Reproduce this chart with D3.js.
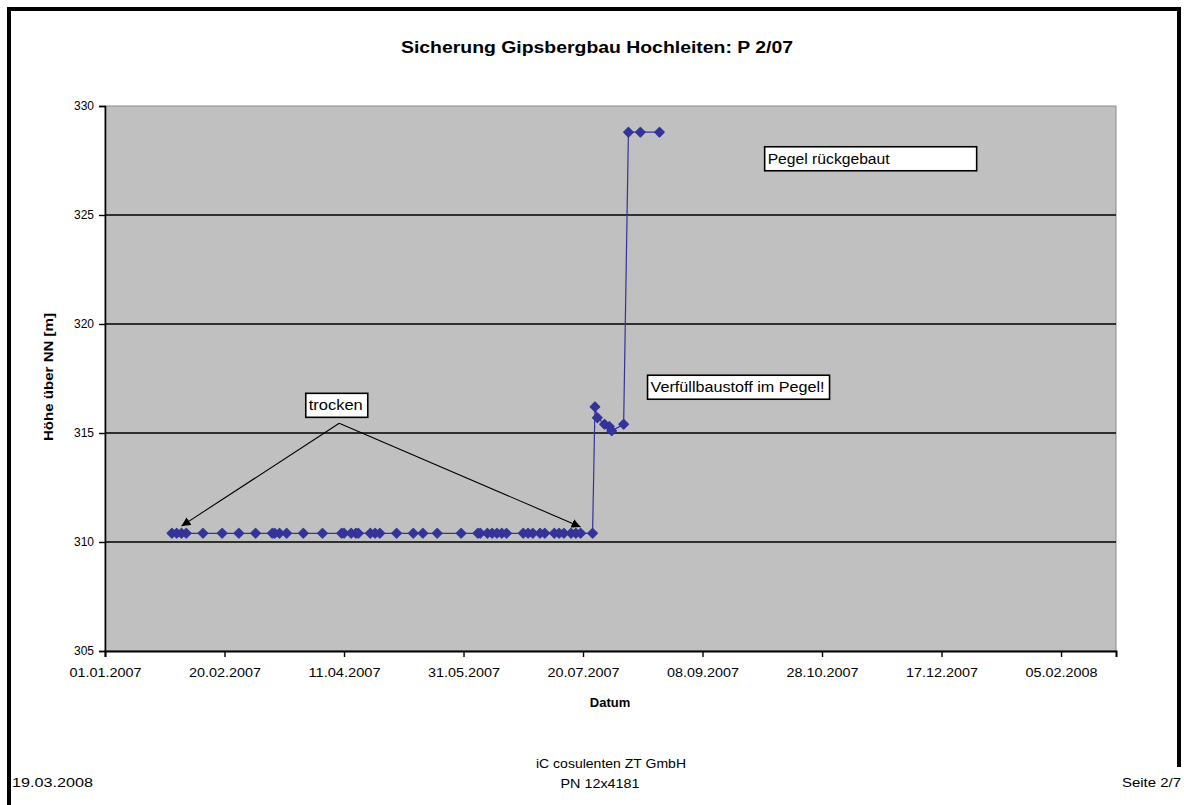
<!DOCTYPE html>
<html>
<head>
<meta charset="utf-8">
<script src="https://cdn.jsdelivr.net/npm/d3@7"></script>
<style>
html,body{margin:0;padding:0;background:#fff;}
svg{display:block;font-family:"Liberation Sans",Arial,sans-serif;}
</style>
</head>
<body>
<svg id="chart" width="1184" height="805"></svg>
<script>
// ---- data ----
const title = "Sicherung Gipsbergbau Hochleiten: P 2/07";
const xTitle = "Datum";
const yTitle = "Höhe über NN [m]";
const dates = [
  "2007-01-29","2007-01-31","2007-02-02","2007-02-04","2007-02-11","2007-02-19","2007-02-26",
  "2007-03-05","2007-03-12","2007-03-13","2007-03-15","2007-03-18","2007-03-25","2007-04-02",
  "2007-04-10","2007-04-11","2007-04-14","2007-04-16","2007-04-17","2007-04-22","2007-04-24",
  "2007-04-26","2007-05-03","2007-05-10","2007-05-14","2007-05-20","2007-05-30","2007-06-06",
  "2007-06-07","2007-06-10","2007-06-12","2007-06-14","2007-06-16","2007-06-18","2007-06-25",
  "2007-06-27","2007-06-29","2007-07-02","2007-07-04","2007-07-08","2007-07-10","2007-07-12",
  "2007-07-15","2007-07-17","2007-07-19","2007-07-24",
  "2007-07-25","2007-07-26","2007-07-29","2007-07-31","2007-08-01","2007-08-06",
  "2007-08-08","2007-08-13","2007-08-21"
];
const levels = [
  310.4,310.4,310.4,310.4,310.4,310.4,310.4,
  310.4,310.4,310.4,310.4,310.4,310.4,310.4,
  310.4,310.4,310.4,310.4,310.4,310.4,310.4,
  310.4,310.4,310.4,310.4,310.4,310.4,310.4,
  310.4,310.4,310.4,310.4,310.4,310.4,310.4,
  310.4,310.4,310.4,310.4,310.4,310.4,310.4,
  310.4,310.4,310.4,310.4,
  316.2,315.7,315.4,315.3,315.1,315.4,
  328.8,328.8,328.8
];
const xTickLabels = ["01.01.2007","20.02.2007","11.04.2007","31.05.2007","20.07.2007","08.09.2007","28.10.2007","17.12.2007","05.02.2008"];
const yTicks = [305,310,315,320,325,330];
const xDomain = ["2007-01-01","2008-02-28"];
const yDomain = [305,330];
// annotations in data coordinates
const arrowApex = {date:"2007-04-09", value:315.45};
const arrowTips = [{date:"2007-02-02", value:310.73},{date:"2007-07-19", value:310.69}];
const notes = [
  {text:"trocken", date:"2007-03-26", value:316.82},
  {text:"Verfüllbaustoff im Pegel!", date:"2007-08-16", value:317.65},
  {text:"Pegel rückgebaut", date:"2007-10-04", value:328.13}
];
const noteBoxW = [62, 182, 212];
const noteTextW = [54, 174, 122];
const footerLeft = "19.03.2008";
const footerCenter = ["iC cosulenten ZT GmbH","PN 12x4181"];
const footerRight = "Seite 2/7";

// ---- drawing ----
const parse = d3.timeParse("%Y-%m-%d");
const parseLbl = d3.timeParse("%d.%m.%Y");
const svg = d3.select("#chart");
const L = 105, R = 1116, T = 106, B = 651;
const x = d3.scaleTime().domain(xDomain.map(parse)).range([L, R]);
const y = d3.scaleLinear().domain(yDomain).range([B, T]);

// page frame
svg.append("rect").attr("x",7).attr("y",7).attr("width",1174).attr("height",4).attr("fill","#000");
svg.append("rect").attr("x",7).attr("y",7).attr("width",4).attr("height",798).attr("fill","#000");
svg.append("rect").attr("x",1177).attr("y",7).attr("width",4).attr("height",760).attr("fill","#000");

// title
svg.append("text").attr("x",597).attr("y",53).attr("text-anchor","middle")
  .attr("font-size",16).attr("font-weight","bold").attr("textLength",392).attr("lengthAdjust","spacingAndGlyphs")
  .text(title);

// plot area
svg.append("rect").attr("x",L).attr("y",T).attr("width",R-L).attr("height",B-T)
  .attr("fill","#c0c0c0").attr("stroke","#8a8a8a").attr("stroke-width",1);

// gridlines
svg.append("g").selectAll("line").data(yTicks.filter(v=>v>305 && v<330)).join("line")
  .attr("x1",L).attr("x2",R).attr("y1",d=>y(d)).attr("y2",d=>y(d))
  .attr("stroke","#000").attr("stroke-width",1.6);

// y axis
const yAxis = svg.append("g").attr("transform",`translate(${L},0)`)
  .call(d3.axisLeft(y).tickValues(yTicks).tickSize(6).tickPadding(5).tickFormat(d3.format("d")));
yAxis.select(".domain").attr("stroke","#000").attr("stroke-width",1.6);
yAxis.selectAll(".tick line").attr("stroke","#000").attr("stroke-width",1.4);
yAxis.selectAll(".tick text").attr("font-size",12).attr("font-family","Liberation Sans, Arial, sans-serif").attr("fill","#000");

// x axis
const xTickDates = xTickLabels.map(parseLbl);
const xAxis = svg.append("g").attr("transform",`translate(0,${B})`)
  .call(d3.axisBottom(x).tickValues(xTickDates).tickSize(6).tickPadding(11).tickFormat(d3.timeFormat("%d.%m.%Y")));
xAxis.select(".domain").attr("stroke","#000").attr("stroke-width",2);
xAxis.selectAll(".tick line").attr("stroke","#000").attr("stroke-width",1.4);
xAxis.selectAll(".tick text").attr("font-size",13).attr("font-family","Liberation Sans, Arial, sans-serif").attr("fill","#000")
  .attr("textLength",72).attr("lengthAdjust","spacingAndGlyphs");

// axis titles
svg.append("text").attr("x",610).attr("y",707).attr("text-anchor","middle")
  .attr("font-size",13).attr("font-weight","bold").text(xTitle);
svg.append("text").attr("transform","translate(53,377) rotate(-90)").attr("text-anchor","middle")
  .attr("font-size",13).attr("font-weight","bold").attr("textLength",128).attr("lengthAdjust","spacingAndGlyphs").text(yTitle);

// series
const pts = dates.map((d,i)=>({date:parse(d), value:levels[i]}));
const line = d3.line().x(d=>x(d.date)).y(d=>y(d.value));
svg.append("path").datum(pts).attr("d",line).attr("fill","none")
  .attr("stroke","#333399").attr("stroke-width",1.2);
svg.append("g").selectAll("path").data(pts).join("path")
  .attr("d", d3.symbol().type(d3.symbolSquare).size(46))
  .attr("transform", d=>`translate(${x(d.date)},${y(d.value)}) rotate(45)`)
  .attr("fill","#333399").attr("stroke","#333399").attr("stroke-width",1.2).attr("stroke-linejoin","round");

// arrows
const defs = svg.append("defs");
defs.append("marker").attr("id","ah").attr("viewBox","0 0 10 10").attr("refX",10).attr("refY",5)
  .attr("markerWidth",9).attr("markerHeight",9).attr("markerUnits","userSpaceOnUse").attr("orient","auto")
  .append("path").attr("d","M0,0 L10,5 L0,10 Z").attr("fill","#000");
svg.append("g").selectAll("line").data(arrowTips).join("line")
  .attr("x1",x(parse(arrowApex.date))).attr("y1",y(arrowApex.value))
  .attr("x2",d=>x(parse(d.date))).attr("y2",d=>y(d.value))
  .attr("stroke","#000").attr("stroke-width",1.1).attr("marker-end","url(#ah)");

// note boxes
notes.forEach((n,i)=>{
  const g = svg.append("g").attr("transform",`translate(${x(parse(n.date))},${y(n.value)})`);
  g.append("rect").attr("x",0).attr("y",0).attr("width",noteBoxW[i]).attr("height",24)
    .attr("fill","#fff").attr("stroke","#000").attr("stroke-width",1.6);
  g.append("text").attr("x",3).attr("y",17).attr("font-size",14)
    .attr("textLength",noteTextW[i]).attr("lengthAdjust","spacingAndGlyphs").text(n.text);
});

// footer
svg.append("text").attr("x",611).attr("y",768).attr("text-anchor","middle").attr("font-size",13)
  .attr("textLength",150).attr("lengthAdjust","spacingAndGlyphs").text(footerCenter[0]);
svg.append("text").attr("x",600).attr("y",788).attr("text-anchor","middle").attr("font-size",13)
  .attr("textLength",79).attr("lengthAdjust","spacingAndGlyphs").text(footerCenter[1]);
svg.append("text").attr("x",12).attr("y",787).attr("font-size",13)
  .attr("textLength",81).attr("lengthAdjust","spacingAndGlyphs").text(footerLeft);
svg.append("text").attr("x",1122).attr("y",787).attr("font-size",13)
  .attr("textLength",59).attr("lengthAdjust","spacingAndGlyphs").text(footerRight);
</script>
</body>
</html>
